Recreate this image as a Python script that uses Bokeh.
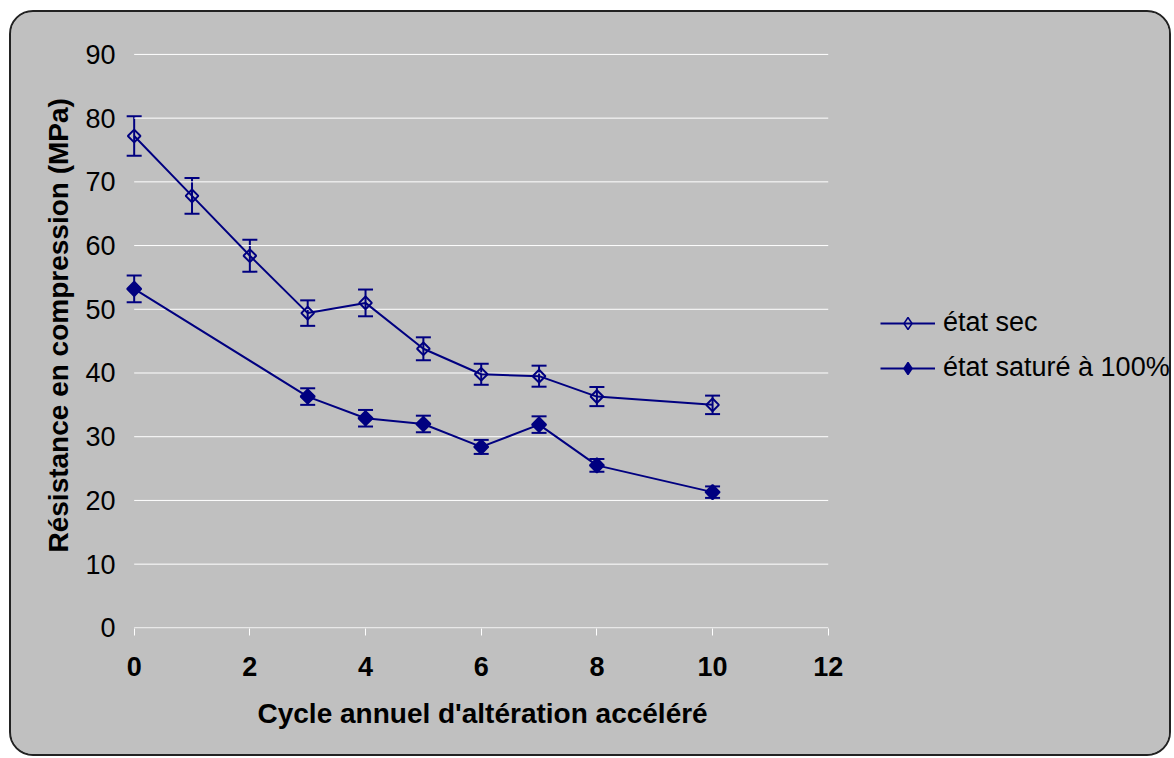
import numpy as np
from bokeh.plotting import figure
from bokeh.models import (Range1d, Whisker, TeeHead, ColumnDataSource, Legend,
                          LegendItem, FixedTicker, Title)
from bokeh.layouts import column
from bokeh.embed import file_html
from bokeh.resources import INLINE

# ---------------- data ----------------
cycles_sec = [0, 1, 2, 3, 4, 5, 6, 7, 8, 10]
sec = [77.2, 67.8, 58.4, 49.4, 51.0, 43.8, 39.8, 39.5, 36.3, 35.0]
sec_err = [3.1, 2.8, 2.5, 2.0, 2.1, 1.8, 1.65, 1.65, 1.5, 1.45]

cycles_sat = [0, 3, 4, 5, 6, 7, 8, 10]
sat = [53.2, 36.3, 32.9, 32.0, 28.4, 31.9, 25.5, 21.3]
sat_err = [2.1, 1.3, 1.3, 1.3, 1.1, 1.3, 1.0, 0.9]

series_names = ["état sec", "état saturé à 100%"]
x_ticks = [0, 2, 4, 6, 8, 10, 12]
y_ticks = [0, 10, 20, 30, 40, 50, 60, 70, 80, 90]
x_title = "Cycle annuel d'altération accéléré"
y_title = "Résistance en compression (MPa)"

NAVY = "#000080"
GRAY = "#C0C0C0"
FONT = "Liberation Sans"

X_MIN, X_MAX = 0, 12

# the frame is widened to the right so that the legend can sit in it
p = figure(width=1158, height=742, x_range=Range1d(-0.15, 17.9),
           y_range=Range1d(-0.1, 90.3),
           output_backend="svg", toolbar_location=None,
           min_border_left=114, min_border_right=0, min_border_top=40,
           min_border_bottom=126, background_fill_color=GRAY,
           border_fill_color=GRAY, outline_line_color=None)

p.xgrid.visible = False
p.ygrid.visible = False
p.yaxis.ticker = FixedTicker(ticks=y_ticks)
p.xaxis.ticker = FixedTicker(ticks=x_ticks)

# horizontal grid lines (0 line doubles as the x axis line), from x=0 to 12
p.segment(x0=[X_MIN] * len(y_ticks), x1=[X_MAX] * len(y_ticks),
          y0=y_ticks, y1=y_ticks, line_color="white", line_width=1)

# x axis
xa = p.xaxis[0]
xa.axis_line_color = None
xa.major_tick_line_color = "white"
xa.major_tick_out = 7
xa.major_tick_in = 0
xa.minor_tick_line_color = None
xa.major_label_text_font = FONT
xa.major_label_text_font_size = "27px"
xa.major_label_text_font_style = "bold"
xa.major_label_text_color = "black"
xa.major_label_standoff = 21

# y axis
ya = p.yaxis[0]
ya.axis_line_color = None
ya.major_tick_line_color = None
ya.minor_tick_line_color = None
ya.major_tick_out = 0
ya.major_tick_in = 0
ya.major_label_text_font = FONT
ya.major_label_text_font_size = "27px"
ya.major_label_text_color = "black"
ya.major_label_standoff = 10

# axis titles as side titles (placed like the original)
p.add_layout(Title(text=x_title, align="left", offset=132, standoff=35,
                   text_font=FONT, text_font_size="28px", text_font_style="bold",
                   text_color="black"), "below")
p.add_layout(Title(text=y_title, align="left", offset=76, standoff=17,
                   text_font=FONT, text_font_size="28px", text_font_style="bold",
                   text_color="black"), "left")

# error bars
src_sec = ColumnDataSource(dict(x=cycles_sec,
                                upper=[v + e for v, e in zip(sec, sec_err)],
                                lower=[v - e for v, e in zip(sec, sec_err)]))
src_sat = ColumnDataSource(dict(x=cycles_sat,
                                upper=[v + e for v, e in zip(sat, sat_err)],
                                lower=[v - e for v, e in zip(sat, sat_err)]))
for src in (src_sec, src_sat):
    w = Whisker(source=src, base="x", upper="upper", lower="lower",
                line_color=NAVY, line_width=2,
                upper_head=TeeHead(size=15, line_color=NAVY, line_width=2),
                lower_head=TeeHead(size=15, line_color=NAVY, line_width=2))
    p.add_layout(w)

# series
l1 = p.line(cycles_sec, sec, line_color=NAVY, line_width=2)
s1 = p.scatter(cycles_sec, sec, marker="square", angle=np.pi / 4, size=9,
               line_color=NAVY, line_width=2, fill_color=None)
l2 = p.line(cycles_sat, sat, line_color=NAVY, line_width=2)
s2 = p.scatter(cycles_sat, sat, marker="square", angle=np.pi / 4, size=10,
               line_color=NAVY, line_width=2, fill_color=NAVY)

# legend-only diamond markers (hidden in the plot, shown in the legend)
d1 = p.scatter(cycles_sec, sec, marker="diamond", line_color=NAVY, line_width=1.5,
               fill_color=None, visible=False)
d2 = p.scatter(cycles_sat, sat, marker="diamond", line_color=NAVY, line_width=1.5,
               fill_color=NAVY, visible=False)

legend = Legend(items=[LegendItem(label=series_names[0], renderers=[l1, d1]),
                       LegendItem(label=series_names[1], renderers=[l2, d2])],
                location=(755, 245), orientation="vertical",
                glyph_width=55, glyph_height=30, label_height=30, spacing=14,
                padding=0, margin=0, label_standoff=8,
                label_text_font=FONT, label_text_font_size="27px",
                label_text_color="black", inactive_fill_alpha=0,
                border_line_color=None, background_fill_alpha=0)
p.add_layout(legend)

layout = column(p, margin=(10, 0, 0, 9),
                styles={"border": "2px solid #222222", "border-radius": "24px",
                        "overflow": "hidden", "background-color": GRAY})

open("out.html", "w").write(file_html(layout, INLINE))
